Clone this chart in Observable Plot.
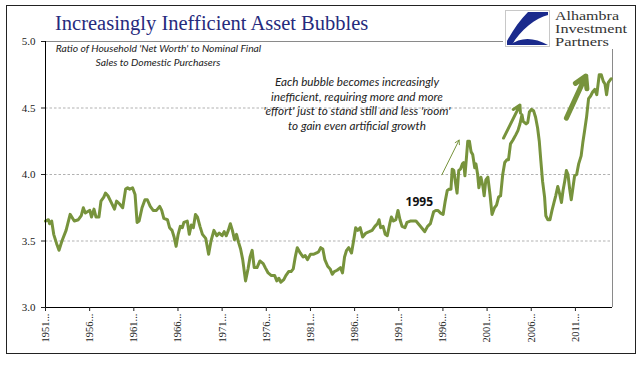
<!DOCTYPE html>
<html><head><meta charset="utf-8">
<script src="https://cdn.jsdelivr.net/npm/d3@7"></script>
<script src="https://cdn.jsdelivr.net/npm/@observablehq/plot@0.6"></script>
<style>
body{margin:0;background:#fff;}
#wrap{position:relative;width:644px;height:375px;overflow:hidden;background:#fff;}
#chart,#overlay{position:absolute;left:0;top:0;}
</style></head>
<body><div id="wrap"><div id="chart"></div>
<svg id="overlay" width="644" height="375" xmlns="http://www.w3.org/2000/svg">
  <rect x="503" y="7" width="131" height="42" fill="#fff"/>
  <text x="55" y="29.5" font-family="Liberation Serif" font-size="20.5" fill="#262A7D">Increasingly Inefficient Asset Bubbles</text>
  <rect x="505.5" y="10.5" width="44" height="36" fill="#fff" stroke="#c8c8c8" stroke-width="1"/>
  <path d="M528,12 L548,12 L548,15 C536,18 520,30 512,45 L507,45 L507,41 C513,30 520,20 528,12 Z" fill="#1a2a8c"/>
  <path d="M510,45 C520,37 534,37 548,45 Z" fill="#1a2a8c"/>
  <g font-family="Liberation Serif" font-size="11.5" fill="#333">
    <text x="555" y="19.5" textLength="64" lengthAdjust="spacingAndGlyphs">Alhambra</text>
    <text x="555" y="32.5" textLength="72" lengthAdjust="spacingAndGlyphs">Investment</text>
    <text x="555" y="45.5" textLength="54" lengthAdjust="spacingAndGlyphs">Partners</text>
  </g>
  <g font-family="Lato" font-style="italic" font-size="10.3" fill="#222" text-anchor="middle">
    <text x="158.5" y="52">Ratio of Household 'Net Worth' to Nominal Final</text>
    <text x="158" y="65.5">Sales to Domestic Purchasers</text>
  </g>
  <g font-family="Lato" font-style="italic" font-size="11.7" fill="#222" text-anchor="middle">
    <text x="357" y="86">Each bubble becomes increasingly</text>
    <text x="357" y="100.7">inefficient, requiring more and more</text>
    <text x="357" y="115.4">'effort' just to stand still and less 'room'</text>
    <text x="357" y="130">to gain even artificial growth</text>
  </g>
  <rect x="6.5" y="5.5" width="629" height="348" fill="none" stroke="#222" stroke-width="1"/>
</svg>
</div>
<script>
// Readings (decimal year) of the ratio
const years = [1951.00,1951.33,1951.47,1951.70,1951.93,1952.26,1952.53,1952.86,1953.33,1953.79,1954.26,1954.72,1955.05,1955.28,1955.51,1955.74,1956.02,1956.21,1956.49,1956.72,1957.05,1957.28,1957.60,1957.79,1958.07,1958.44,1958.81,1959.05,1959.37,1959.74,1960.07,1960.30,1960.53,1960.86,1961.14,1961.37,1961.60,1961.93,1962.26,1962.53,1962.86,1963.19,1963.56,1963.93,1964.16,1964.40,1964.81,1965.05,1965.33,1965.56,1965.79,1966.02,1966.26,1966.49,1966.67,1967.05,1967.28,1967.51,1967.74,1967.98,1968.21,1968.49,1968.77,1969.14,1969.47,1969.74,1970.07,1970.40,1970.67,1971.00,1971.23,1971.47,1971.70,1971.93,1972.16,1972.40,1972.63,1972.86,1973.09,1973.33,1973.65,1973.93,1974.16,1974.40,1974.63,1974.95,1975.28,1975.65,1975.88,1976.21,1976.58,1976.95,1977.19,1977.42,1977.65,1977.98,1978.21,1978.53,1978.81,1979.05,1979.28,1979.51,1979.84,1980.16,1980.40,1980.67,1981.00,1981.33,1981.70,1981.93,1982.16,1982.40,1982.63,1982.95,1983.23,1983.47,1983.70,1984.02,1984.40,1984.63,1984.86,1985.09,1985.33,1985.65,1985.88,1986.12,1986.35,1986.63,1986.91,1987.28,1987.65,1987.98,1988.30,1988.58,1988.77,1988.95,1989.23,1989.47,1989.70,1989.98,1990.16,1990.40,1990.67,1990.91,1991.14,1991.37,1991.70,1991.93,1992.30,1992.63,1992.95,1993.33,1993.70,1993.93,1994.26,1994.58,1994.95,1995.19,1995.42,1995.74,1996.02,1996.26,1996.49,1996.72,1996.91,1997.05,1997.23,1997.42,1997.60,1997.79,1997.98,1998.21,1998.35,1998.49,1998.63,1998.81,1999.00,1999.19,1999.37,1999.60,1999.74,1999.93,2000.07,2000.30,2000.53,2000.67,2000.86,2001.09,2001.33,2001.56,2001.84,2002.07,2002.30,2002.53,2002.77,2003.00,2003.23,2003.42,2003.65,2003.93,2004.26,2004.49,2004.72,2004.95,2005.09,2005.42,2005.60,2005.79,2006.02,2006.26,2006.49,2006.72,2006.91,2007.09,2007.28,2007.51,2007.65,2007.88,2008.12,2008.35,2008.58,2008.77,2009.00,2009.23,2009.42,2009.60,2009.79,2009.98,2010.16,2010.35,2010.53,2010.72,2010.91,2011.14,2011.37,2011.65,2011.84,2012.02,2012.26,2012.49,2012.72,2012.95,2013.19,2013.42,2013.70,2013.93,2014.16,2014.35,2014.53,2014.72,2015.05];
const ratio = [3.65,3.66,3.63,3.65,3.55,3.48,3.43,3.50,3.58,3.70,3.65,3.66,3.69,3.75,3.71,3.72,3.73,3.68,3.74,3.68,3.68,3.80,3.83,3.86,3.84,3.79,3.74,3.80,3.78,3.75,3.89,3.90,3.89,3.90,3.85,3.64,3.65,3.75,3.81,3.81,3.76,3.73,3.73,3.76,3.73,3.67,3.66,3.60,3.58,3.53,3.46,3.55,3.61,3.60,3.64,3.65,3.55,3.62,3.60,3.70,3.68,3.61,3.55,3.52,3.40,3.50,3.58,3.54,3.56,3.54,3.57,3.54,3.58,3.63,3.58,3.51,3.55,3.49,3.44,3.36,3.20,3.29,3.38,3.43,3.30,3.30,3.35,3.33,3.30,3.26,3.24,3.24,3.20,3.22,3.19,3.21,3.24,3.27,3.27,3.29,3.38,3.45,3.41,3.38,3.39,3.36,3.40,3.40,3.41,3.42,3.45,3.44,3.36,3.31,3.29,3.25,3.27,3.28,3.30,3.26,3.38,3.43,3.45,3.41,3.50,3.60,3.58,3.60,3.53,3.56,3.57,3.58,3.61,3.63,3.66,3.60,3.61,3.55,3.54,3.63,3.68,3.65,3.66,3.73,3.66,3.61,3.60,3.64,3.65,3.65,3.65,3.62,3.59,3.57,3.61,3.63,3.72,3.73,3.73,3.71,3.70,3.80,3.88,3.89,3.89,4.04,4.03,3.94,3.86,4.03,4.04,4.08,4.09,3.99,4.10,4.25,4.25,4.17,4.15,4.05,4.08,4.00,3.90,3.98,3.91,3.84,3.96,3.98,3.85,3.70,3.75,3.77,3.83,3.84,4.00,4.09,4.11,4.11,4.23,4.26,4.30,4.33,4.38,4.45,4.40,4.38,4.39,4.47,4.49,4.48,4.43,4.35,4.25,4.10,3.95,3.83,3.69,3.66,3.66,3.73,3.79,3.84,3.91,3.85,3.79,3.88,3.95,4.03,4.00,3.89,3.81,3.90,3.99,4.00,4.08,4.14,4.24,4.32,4.43,4.57,4.59,4.62,4.64,4.60,4.75,4.75,4.70,4.68,4.60,4.69,4.72];

const tickYears = [1951,1956,1961,1966,1971,1976,1981,1986,1991,1996,2001,2006,2011];
const tickLabels = ["1951...","1956...","1961...","1966...","1971...","1976...","1981...","1986...","1991...","1996...","2001...","2006...","2011..."];
const yTicks = [3.0,3.5,4.0,4.5,5.0];
const gridLevels = [3.5,4.0,4.5];

// annotation arrows (start/end in data units)
const arrowYear1 = [1995.88, 2002.86, 2009.98];
const arrowVal1  = [3.998, 4.274, 4.424];
const arrowYear2 = [1997.83, 2004.72, 2012.17];
const arrowVal2  = [4.259, 4.522, 4.740];

const labelText = ["1995"];
const labelYear = [1993.32];
const labelVal = [3.79];

const xMin = 1951, xMax = 2015.2;
const data = years.map((y, i) => ({year: y, value: ratio[i]}));
const arrows = arrowYear1.map((x1, i) => ({x1, y1: arrowVal1[i], x2: arrowYear2[i], y2: arrowVal2[i]}));
const labels = labelText.map((t, i) => ({text: t, x: labelYear[i], y: labelVal[i]}));
const olive = "#77933C";

const chart = Plot.plot({
  width: 644, height: 375,
  marginTop: 41, marginRight: 32, marginBottom: 68, marginLeft: 45,
  x: {domain: [xMin, xMax]},
  y: {domain: [3, 5]},
  style: {background: "transparent"},
  marks: [
    Plot.ruleY(gridLevels, {stroke: "#a8a8a8", strokeWidth: 0.9, strokeDasharray: "2.5,2"}),
    Plot.ruleY([5], {stroke: "#8a8a8a", strokeWidth: 1}),
    Plot.ruleX([xMax], {stroke: "#8a8a8a", strokeWidth: 1}),
    Plot.line(data, {x: "year", y: "value", stroke: olive, strokeWidth: 3, strokeLinejoin: "round", strokeLinecap: "round"}),
    Plot.arrow([arrows[0]], {x1: "x1", y1: "y1", x2: "x2", y2: "y2", stroke: olive, strokeWidth: 1, headLength: 7}),
    Plot.arrow([arrows[1]], {x1: "x1", y1: "y1", x2: "x2", y2: "y2", stroke: olive, strokeWidth: 3, headLength: 4}),
    Plot.arrow([arrows[2]], {x1: "x1", y1: "y1", x2: "x2", y2: "y2", stroke: olive, strokeWidth: 5, headLength: 3.8}),
    Plot.text(labels, {x: "x", y: "y", text: "text", fontFamily: "Open Sans", fontWeight: "bold", fontSize: 12, fill: "#111"}),
    Plot.ruleX([xMin], {stroke: "#000", strokeWidth: 1}),
    Plot.ruleY([3], {stroke: "#000", strokeWidth: 1}),
    Plot.axisY({ticks: yTicks, tickFormat: d3.format(".1f"), tickSize: 4, tickPadding: 6, label: null,
      fontFamily: "Liberation Serif", fontSize: 11, color: "#222"}),
    Plot.axisX({ticks: tickYears, tickFormat: d => tickLabels[tickYears.indexOf(d)], tickRotate: -90, tickSize: 4, tickPadding: 2,
      label: null, fontFamily: "Liberation Serif", fontSize: 10.5, color: "#222"})
  ]
});
document.getElementById("chart").appendChild(chart);
</script>
</body></html>
